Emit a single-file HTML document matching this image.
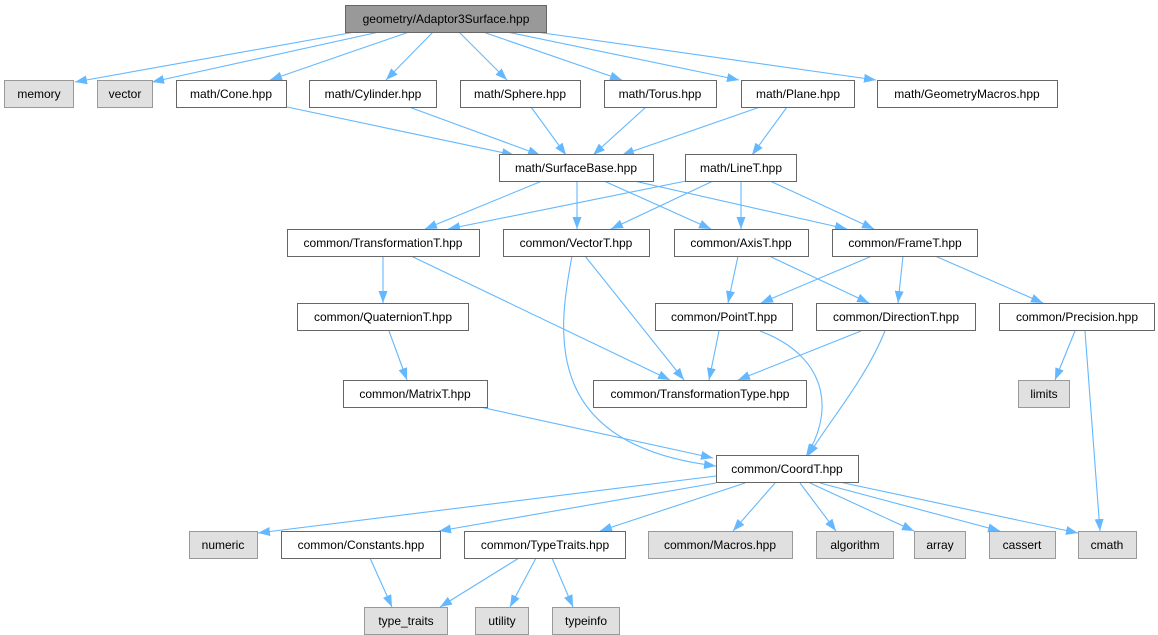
<!DOCTYPE html>
<html><head><meta charset="utf-8"><style>
html,body{margin:0;padding:0;background:#fff;}
svg{display:block;}
text{font-family:"Liberation Sans",sans-serif;font-size:12px;fill:#000;}
</style></head><body>
<svg width="1158" height="635" viewBox="0 0 1158 635" xmlns="http://www.w3.org/2000/svg">
<defs>
<marker id="a" viewBox="0 0 12 9" refX="12" refY="4.5" markerWidth="12" markerHeight="9" markerUnits="userSpaceOnUse" orient="auto">
<path d="M0,0 L12,4.5 L0,9 z" fill="#63b8ff"/></marker>
</defs>
<g stroke="#63b8ff" stroke-width="1.1" fill="none" marker-end="url(#a)">
<line x1="355" y1="32" x2="75" y2="82"/>
<line x1="379" y1="32" x2="152" y2="82"/>
<line x1="409" y1="32" x2="270" y2="80"/>
<line x1="433" y1="32" x2="386" y2="80"/>
<line x1="459" y1="32" x2="507" y2="80"/>
<line x1="483" y1="32" x2="622" y2="80"/>
<line x1="507" y1="32" x2="739" y2="80"/>
<line x1="536" y1="32" x2="876" y2="80"/>
<line x1="287" y1="107" x2="514" y2="155"/>
<line x1="409" y1="107" x2="540" y2="155"/>
<line x1="531" y1="107" x2="566" y2="155"/>
<line x1="646" y1="107" x2="593" y2="155"/>
<line x1="760" y1="107" x2="622" y2="155"/>
<line x1="787" y1="107" x2="752" y2="155"/>
<line x1="542" y1="181" x2="425" y2="229"/>
<line x1="577" y1="181" x2="577" y2="229"/>
<line x1="604" y1="181" x2="711" y2="229"/>
<line x1="634" y1="181" x2="847" y2="229"/>
<line x1="686" y1="181" x2="448" y2="229"/>
<line x1="713" y1="181" x2="611" y2="229"/>
<line x1="741" y1="181" x2="741" y2="229"/>
<line x1="770" y1="181" x2="874" y2="229"/>
<line x1="383" y1="256" x2="383" y2="303"/>
<line x1="411" y1="256" x2="670" y2="380"/>
<path d="M572,256 C558,330 540,445 716,466"/>
<line x1="585" y1="256" x2="684" y2="380"/>
<line x1="738" y1="256" x2="728" y2="303"/>
<line x1="769" y1="256" x2="869" y2="303"/>
<line x1="872" y1="256" x2="761" y2="303"/>
<line x1="903" y1="256" x2="898" y2="303"/>
<line x1="935" y1="256" x2="1043" y2="303"/>
<line x1="389" y1="331" x2="407" y2="380"/>
<line x1="719" y1="331" x2="709" y2="380"/>
<line x1="861" y1="331" x2="738" y2="380"/>
<path d="M760,331 C836,360 830,420 806,456"/>
<path d="M885,331 C865,380 830,420 808,456"/>
<line x1="1075" y1="331" x2="1055" y2="380"/>
<line x1="1085" y1="331" x2="1100" y2="531"/>
<line x1="480" y1="407" x2="713" y2="458"/>
<line x1="716" y1="476" x2="258" y2="533"/>
<line x1="716" y1="483" x2="439" y2="531"/>
<line x1="745" y1="483" x2="600" y2="531"/>
<line x1="775" y1="483" x2="733" y2="531"/>
<line x1="800" y1="483" x2="836" y2="531"/>
<line x1="810" y1="483" x2="914" y2="531"/>
<line x1="820" y1="483" x2="1000" y2="531"/>
<line x1="830" y1="480" x2="1078" y2="533"/>
<line x1="370" y1="558" x2="392" y2="607"/>
<line x1="519" y1="558" x2="440" y2="607"/>
<line x1="536" y1="558" x2="510" y2="607"/>
<line x1="552" y1="558" x2="573" y2="607"/>
</g>
<g stroke-width="1">
<rect x="345.5" y="5.5" width="201" height="27" fill="#999" stroke="#666"/>
<g fill="#e0e0e0" stroke="#999">
<rect x="4.5" y="80.5" width="69" height="27"/>
<rect x="97.5" y="80.5" width="55" height="27"/>
<rect x="1018.5" y="380.5" width="51" height="27"/>
<rect x="189.5" y="531.5" width="68" height="27"/>
<rect x="648.5" y="531.5" width="144" height="27"/>
<rect x="816.5" y="531.5" width="77" height="27"/>
<rect x="914.5" y="531.5" width="51" height="27"/>
<rect x="989.5" y="531.5" width="66" height="27"/>
<rect x="1078.5" y="531.5" width="58" height="27"/>
<rect x="364.5" y="607.5" width="83" height="27"/>
<rect x="475.5" y="607.5" width="53" height="27"/>
<rect x="552.5" y="607.5" width="67" height="27"/>
</g>
<g fill="#fff" stroke="#666">
<rect x="176.5" y="80.5" width="110" height="27"/>
<rect x="309.5" y="80.5" width="127" height="27"/>
<rect x="460.5" y="80.5" width="120" height="27"/>
<rect x="604.5" y="80.5" width="112" height="27"/>
<rect x="741.5" y="80.5" width="113" height="27"/>
<rect x="877.5" y="80.5" width="180" height="27"/>
<rect x="499.5" y="154.5" width="154" height="27"/>
<rect x="685.5" y="154.5" width="111" height="27"/>
<rect x="287.5" y="229.5" width="192" height="27"/>
<rect x="503.5" y="229.5" width="146" height="27"/>
<rect x="674.5" y="229.5" width="134" height="27"/>
<rect x="832.5" y="229.5" width="145" height="27"/>
<rect x="297.5" y="303.5" width="171" height="27"/>
<rect x="655.5" y="303.5" width="137" height="27"/>
<rect x="816.5" y="303.5" width="159" height="27"/>
<rect x="999.5" y="303.5" width="155" height="27"/>
<rect x="343.5" y="380.5" width="144" height="27"/>
<rect x="593.5" y="380.5" width="213" height="27"/>
<rect x="716.5" y="455.5" width="142" height="27"/>
<rect x="281.5" y="531.5" width="159" height="27"/>
<rect x="464.5" y="531.5" width="161" height="27"/>
</g>
</g>
<g text-anchor="middle">
<text x="446" y="23">geometry/Adaptor3Surface.hpp</text>
<text x="39" y="98">memory</text>
<text x="125" y="98">vector</text>
<text x="231" y="98">math/Cone.hpp</text>
<text x="373" y="98">math/Cylinder.hpp</text>
<text x="520" y="98">math/Sphere.hpp</text>
<text x="660" y="98">math/Torus.hpp</text>
<text x="798" y="98">math/Plane.hpp</text>
<text x="967" y="98">math/GeometryMacros.hpp</text>
<text x="576" y="172">math/SurfaceBase.hpp</text>
<text x="741" y="172">math/LineT.hpp</text>
<text x="383" y="247">common/TransformationT.hpp</text>
<text x="576" y="247">common/VectorT.hpp</text>
<text x="741" y="247">common/AxisT.hpp</text>
<text x="905" y="247">common/FrameT.hpp</text>
<text x="383" y="321">common/QuaternionT.hpp</text>
<text x="724" y="321">common/PointT.hpp</text>
<text x="896" y="321">common/DirectionT.hpp</text>
<text x="1077" y="321">common/Precision.hpp</text>
<text x="415" y="398">common/MatrixT.hpp</text>
<text x="700" y="398">common/TransformationType.hpp</text>
<text x="1044" y="398">limits</text>
<text x="787" y="473">common/CoordT.hpp</text>
<text x="223" y="549">numeric</text>
<text x="361" y="549">common/Constants.hpp</text>
<text x="545" y="549">common/TypeTraits.hpp</text>
<text x="720" y="549">common/Macros.hpp</text>
<text x="855" y="549">algorithm</text>
<text x="940" y="549">array</text>
<text x="1022" y="549">cassert</text>
<text x="1107" y="549">cmath</text>
<text x="406" y="625">type_traits</text>
<text x="502" y="625">utility</text>
<text x="586" y="625">typeinfo</text>
</g>
</svg>
</body></html>
